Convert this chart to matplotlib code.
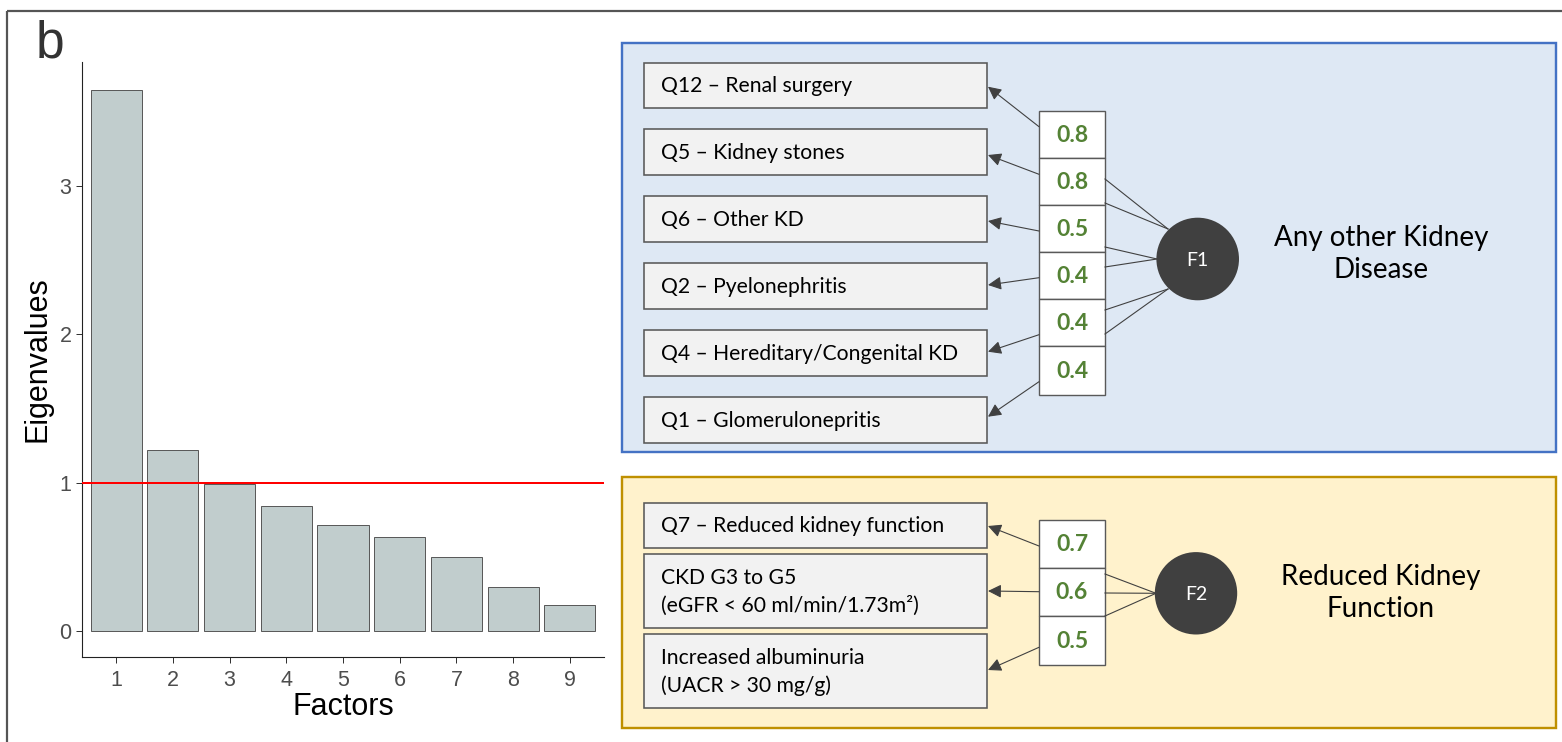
import matplotlib
matplotlib.use("Agg")
import matplotlib.pyplot as plt
from matplotlib.patches import Rectangle, Circle

# ---------------- data ----------------
factors = [1, 2, 3, 4, 5, 6, 7, 8, 9]
eigenvalues = [3.65, 1.22, 0.99, 0.84, 0.715, 0.635, 0.50, 0.30, 0.175]
kaiser_threshold = 1.0

f1_items = ["Q12 \u2013 Renal surgery", "Q5 \u2013 Kidney stones", "Q6 \u2013 Other KD",
            "Q2 \u2013 Pyelonephritis", "Q4 \u2013 Hereditary/Congenital KD",
            "Q1 \u2013 Glomerulonepritis"]
f1_loadings = ["0.8", "0.8", "0.5", "0.4", "0.4", "0.4"]
f1_title = "Any other Kidney\nDisease"

f2_items = ["Q7 \u2013 Reduced kidney function",
            "CKD G3 to G5\n(eGFR < 60 ml/min/1.73m\u00b2)",
            "Increased albuminuria\n(UACR > 30 mg/g)"]
f2_loadings = ["0.7", "0.6", "0.5"]
f2_title = "Reduced Kidney\nFunction"

W, H = 1562, 742
fig = plt.figure(figsize=(W / 100, H / 100), dpi=100)
PX = 0.72  # points per pixel

# ---------------- overlay (pixel coordinates) ----------------
ov = fig.add_axes([0, 0, 1, 1])
ov.set_xlim(0, W)
ov.set_ylim(H, 0)
ov.axis("off")

# outer frame (top and left)
ov.plot([7, W], [11, 11], color="#555555", lw=2.2 * PX, solid_capstyle="butt")
ov.plot([7, 7], [11, H], color="#555555", lw=2.2 * PX, solid_capstyle="butt")

ov.text(50, 44, "b", fontsize=37, color="#333333", ha="center", va="center",
        family="Liberation Sans")

# ---------------- scree plot ----------------
left, right, top, bottom = 82, 604, 62, 657
ax = fig.add_axes([left / W, (H - bottom) / H, (right - left) / W, (bottom - top) / H])
ax.bar(factors, eigenvalues, width=0.9, color="#C1CDCD", edgecolor="#5A5A5A",
       linewidth=1.0 * PX, zorder=2)
ax.axhline(kaiser_threshold, color="#FF0000", lw=2.0 * PX, zorder=3)
ax.set_xlim(0.4, 9.6)
ax.set_ylim(-0.175, 3.837)
ax.set_xticks(factors)
ax.set_yticks([0, 1, 2, 3])
for s in ["top", "right"]:
    ax.spines[s].set_visible(False)
for s in ["left", "bottom"]:
    ax.spines[s].set_color("#222222")
    ax.spines[s].set_linewidth(1.1 * PX)
ax.tick_params(axis="both", colors="#333333", labelcolor="#4D4D4D", length=4,
               width=1.0 * PX, labelsize=15.5)
ax.tick_params(axis="x", pad=5)
for lab in ax.get_xticklabels() + ax.get_yticklabels():
    lab.set_family("Liberation Sans")
ax.set_xlabel("Factors", fontsize=22, family="Liberation Sans", color="black", labelpad=1)
ax.set_ylabel("Eigenvalues", fontsize=22, family="Liberation Sans", color="black", labelpad=5)
ax.set_facecolor("none")

# ---------------- diagrams ----------------
FONT = "Lato"
line_c = "#404040"
box_edge = "#595959"


def panel(x0, y0, x1, y1, fc, ec):
    ov.add_patch(Rectangle((x0, y0), x1 - x0, y1 - y0, facecolor=fc, edgecolor=ec,
                           lw=2.4 * PX, zorder=1))


def item_box(y0, y1, text):
    ov.add_patch(Rectangle((644, y0), 987 - 644, y1 - y0, facecolor="#F2F2F2",
                           edgecolor=box_edge, lw=1.6 * PX, zorder=2))
    ov.text(661, (y0 + y1) / 2 + 1, text, fontsize=15.2, family=FONT, ha="left",
            va="center", color="black", linespacing=1.5, zorder=3)


def load_box(y0, y1, text):
    ov.add_patch(Rectangle((1039, y0), 1105 - 1039, y1 - y0, facecolor="white",
                           edgecolor=box_edge, lw=1.4 * PX, zorder=2))
    ov.text(1072, (y0 + y1) / 2 + 1, text, fontsize=16.5, family=FONT, weight="bold",
            ha="center", va="center", color="#548235", zorder=3)


def arrow(x0, y0, x1, y1):
    ov.annotate("", xy=(x1, y1), xytext=(x0, y0),
                arrowprops=dict(arrowstyle="-|>", mutation_scale=20, color=line_c,
                                lw=1.1 * PX, shrinkA=0, shrinkB=0), zorder=4)


def link(x0, y0, x1, y1):
    ov.plot([x0, x1], [y0, y1], color=line_c, lw=1.1 * PX, zorder=4)


# --- F1 panel ---
panel(622, 43, 1556, 452, "#DEE8F4", "#4472C4")
f1_item_y = [(63, 108), (129, 175), (196, 242), (263, 309), (330, 376), (397, 443)]
for (y0, y1), t in zip(f1_item_y, f1_items):
    item_box(y0, y1, t)
f1_load_y = [110.7, 157.7, 204.7, 252, 299, 346, 395]
for i, t in enumerate(f1_loadings):
    load_box(f1_load_y[i], f1_load_y[i + 1], t)
arr_start = [126.7, 174.3, 231, 277.7, 334.7, 381.7]
arr_end = [86.7, 155, 221, 285, 351.7, 416.7]
for ys, ye in zip(arr_start, arr_end):
    arrow(1039, ys, 988, ye)
f1_link_y = [179, 203, 247, 267, 310, 334]
f1_link_end = [(1168, 229), (1168, 229), (1157, 259), (1157, 259), (1168, 289), (1168, 289)]
for y, (ex, ey) in zip(f1_link_y, f1_link_end):
    link(1105, y, ex, ey)
ov.add_patch(Circle((1197.7, 259), 41.3, facecolor="#404040", edgecolor="none", zorder=5))
ov.text(1197.7, 260, "F1", fontsize=14, family=FONT, color="white", ha="center",
        va="center", zorder=6)
ov.text(1381, 254, f1_title, fontsize=20, family=FONT, color="black", ha="center",
        va="center", linespacing=1.32, zorder=3)

# --- F2 panel ---
panel(622, 477, 1556, 728, "#FFF2CC", "#BF9000")
f2_item_y = [(503, 548), (554, 628), (634, 708)]
for (y0, y1), t in zip(f2_item_y, f2_items):
    item_box(y0, y1, t)
f2_load_y = [520, 567.7, 616, 665]
for i, t in enumerate(f2_loadings):
    load_box(f2_load_y[i], f2_load_y[i + 1], t)
for ys, ye in zip([546, 591.7, 647.3], [526, 591, 670]):
    arrow(1039, ys, 988, ye)
for y in [574, 593, 616]:
    link(1105, y, 1156, 593.3)
ov.add_patch(Circle((1196, 593.3), 41.2, facecolor="#404040", edgecolor="none", zorder=5))
ov.text(1196, 594, "F2", fontsize=14, family=FONT, color="white", ha="center",
        va="center", zorder=6)
ov.text(1381, 593, f2_title, fontsize=20, family=FONT, color="black", ha="center",
        va="center", linespacing=1.32, zorder=3)

fig.savefig("out.png", dpi=100, facecolor="white")
